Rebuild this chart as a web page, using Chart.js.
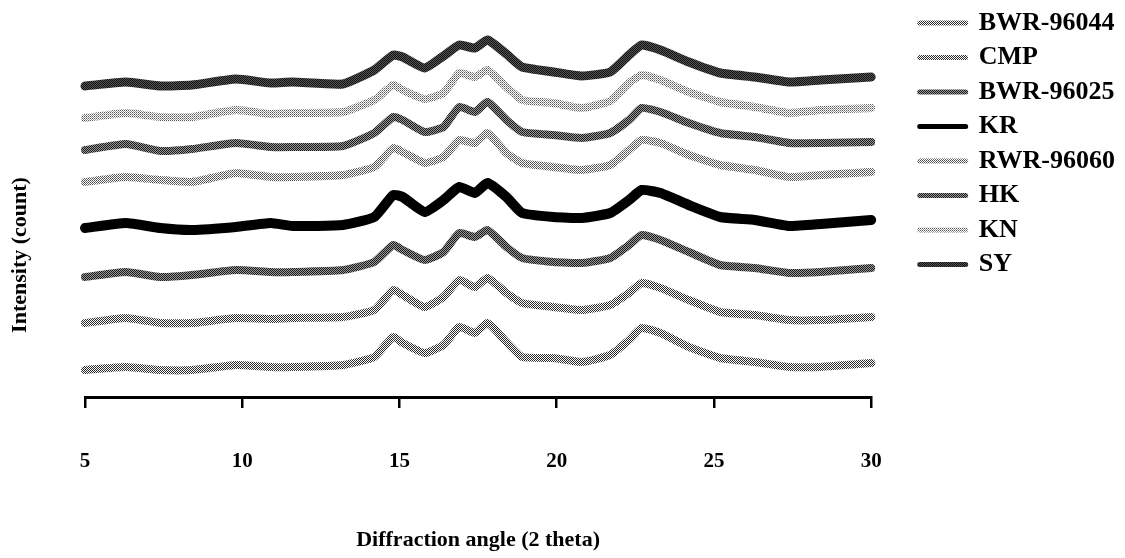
<!DOCTYPE html>
<html>
<head>
<meta charset="utf-8">
<script src="https://cdn.jsdelivr.net/npm/chart.js@4.4.1/dist/chart.umd.min.js"></script>
<style>
  html, body { margin: 0; padding: 0; background: #ffffff; }
  #wrap { width: 1125px; height: 558px; position: relative; }
</style>
</head>
<body>
<div id="wrap"><canvas id="c" width="1125" height="558"></canvas></div>
<script>
// ---- data (2θ positions and intensities, stacked display units) ----
const twoTheta = [5, 6.3, 7.4, 8.4, 9.8, 10.9, 11.6, 13.2, 14.2, 14.8, 15.1, 15.8, 16.4, 16.9, 17.4, 17.8, 18.4, 18.9, 19.9, 20.8, 21.7, 22.3, 22.7, 23.3, 24.2, 25.2, 26.3, 27.4, 28.4, 30];
const seriesNames = ['BWR-96044', 'CMP', 'BWR-96025', 'KR', 'RWR-96060', 'HK', 'KN', 'SY'];
const bwr96044 = [27, 30, 27, 27, 32, 30, 30, 32, 40, 60, 54, 44, 52, 70, 64, 74, 55, 40, 39, 35, 42, 57, 69, 64, 50, 39, 35, 30, 30, 34];
const cmp      = [74, 79, 74, 74, 79, 78, 79, 80, 87, 107, 102, 90, 100, 117, 110, 119, 104, 94, 90, 87, 92, 104, 114, 109, 97, 85, 82, 77, 77, 80];
const bwr96025 = [120, 125, 120, 122, 127, 125, 125, 127, 135, 152, 147, 137, 145, 164, 160, 167, 150, 139, 135, 134, 139, 152, 162, 157, 145, 132, 129, 124, 125, 129];
const kr       = [169, 174, 169, 167, 170, 174, 171, 172, 180, 202, 200, 185, 197, 210, 204, 214, 200, 184, 180, 179, 184, 197, 207, 204, 192, 180, 177, 171, 173, 177];
const rwr96060 = [215, 220, 217, 215, 224, 220, 220, 222, 230, 249, 245, 234, 240, 257, 254, 264, 244, 234, 230, 227, 232, 247, 257, 254, 242, 232, 227, 220, 222, 225];
const hk       = [247, 253, 246, 248, 254, 250, 250, 251, 264, 280, 277, 265, 270, 290, 285, 295, 277, 265, 262, 259, 264, 277, 289, 285, 274, 264, 260, 254, 254, 255];
const kn       = [279, 284, 280, 280, 287, 283, 284, 285, 297, 312, 307, 298, 304, 324, 320, 327, 310, 297, 294, 289, 296, 314, 322, 317, 305, 295, 290, 284, 287, 289];
const sy       = [311, 315, 311, 312, 318, 314, 315, 313, 327, 342, 340, 329, 341, 352, 349, 357, 343, 330, 325, 321, 325, 342, 352, 347, 335, 324, 320, 315, 317, 320];
const xTicks = [5, 10, 15, 20, 25, 30];

// ---- halftone patterns ----
function makePattern(cells) {
  const n = cells.length;
  const cv = document.createElement('canvas');
  cv.width = n; cv.height = n;
  const g = cv.getContext('2d');
  for (let r = 0; r < n; r++) for (let c = 0; c < n; c++) {
    g.fillStyle = cells[r][c];
    g.fillRect(c, r, 1, 1);
  }
  return g.createPattern(cv, 'repeat');
}
const W = '#ffffff';
const patDark   = makePattern([['#111', '#555'], ['#555', '#111']]);
const patMid    = makePattern([['#1a1a1a', '#9a9a9a'], ['#9a9a9a', '#1a1a1a']]);
const patCheck  = makePattern([['#2a2a2a', W], [W, '#2a2a2a']]);
const patLight  = makePattern([['#4a4a4a', W], [W, '#6a6a6a']]);
const patLighter= makePattern([['#555', W], [W, '#999']]);

const styles = {
  'BWR-96044': { color: patCheck, width: 8 },
  'CMP':       { color: patCheck, width: 8 },
  'BWR-96025': { color: patMid,   width: 8 },
  'KR':        { color: '#000000', width: 10 },
  'RWR-96060': { color: patLight, width: 8 },
  'HK':        { color: patMid,   width: 8 },
  'KN':        { color: patLighter, width: 8 },
  'SY':        { color: patDark,  width: 9 }
};
const seriesValues = [bwr96044, cmp, bwr96025, kr, rwr96060, hk, kn, sy];

const datasets = seriesNames.map((name, k) => ({
  label: name,
  data: twoTheta.map((t, i) => ({ x: t, y: seriesValues[k][i] })),
  borderColor: styles[name].color,
  backgroundColor: 'rgba(0,0,0,0)',
  borderWidth: styles[name].width,
  pointRadius: 0,
  tension: 0.15,
  borderJoinStyle: 'round',
  borderCapStyle: 'round',
  fill: false,
  clip: false
}));

const serif = "'Liberation Serif', 'Times New Roman', 'DejaVu Serif', serif";
const LEGEND_GAP = 40;

const layoutTweaks = {
  id: 'layoutTweaks',
  beforeLayout(chart) {
    const lg = chart.legend;
    if (lg && !lg._gapWrapped) {
      const f = lg.fit;
      lg.fit = function () { f.call(this); this.width += LEGEND_GAP; };
      lg._gapWrapped = true;
    }
  },
  afterLayout(chart) {
    const s = chart.scales.yTitle;
    if (s) { s.top = 170; s.bottom = 340; }
    const lg = chart.legend;
    if (lg) { lg.left += LEGEND_GAP; lg.top += 1.5; }
  }
};

new Chart(document.getElementById('c'), {
  type: 'line',
  data: { datasets },
  plugins: [layoutTweaks],
  options: {
    responsive: false,
    animation: false,
    layout: { padding: { top: 0, right: 0, bottom: 0, left: 0 } },
    plugins: {
      tooltip: { enabled: false },
      legend: {
        position: 'right',
        align: 'start',
        labels: {
          font: { family: serif, size: 26, weight: 'bold' },
          color: '#000',
          boxWidth: 46,
          boxHeight: 0,
          padding: 8.5,
          generateLabels(chart) {
            const items = Chart.defaults.plugins.legend.labels.generateLabels(chart);
            return items.map(it => Object.assign(it, { lineWidth: 5, fillStyle: 'rgba(0,0,0,0)', lineCap: 'butt' }));
          }
        }
      }
    },
    scales: {
      x: {
        type: 'linear',
        min: 5,
        max: 30,
        afterBuildTicks(scale) { scale.ticks = xTicks.map(v => ({ value: v })); },
        afterFit(scale) { scale.height = 161; },
        grid: { display: true, drawOnChartArea: false, drawTicks: true, tickLength: 11, color: '#000', lineWidth: 2.5 },
        border: { display: true, color: '#000', width: 3 },
        ticks: { font: { family: serif, size: 21, weight: 'bold' }, color: '#000', padding: 41, maxRotation: 0 },
        title: { display: true, text: 'Diffraction angle (2 theta)', font: { family: serif, size: 22, weight: 'bold' }, color: '#000', padding: { top: 0, bottom: 4 } }
      },
      y: {
        type: 'linear',
        display: false,
        min: 0,
        max: 397
      },
      yTitle: {
        type: 'linear',
        position: 'left',
        display: true,
        grid: { display: false },
        border: { display: false },
        ticks: { display: false },
        afterFit(scale) { scale.width = 85; },
        title: { display: true, text: 'Intensity (count)', font: { family: serif, size: 22, weight: 'bold' }, color: '#000', padding: { top: 7, bottom: 0 } }
      }
    }
  }
});
</script>
</body>
</html>
